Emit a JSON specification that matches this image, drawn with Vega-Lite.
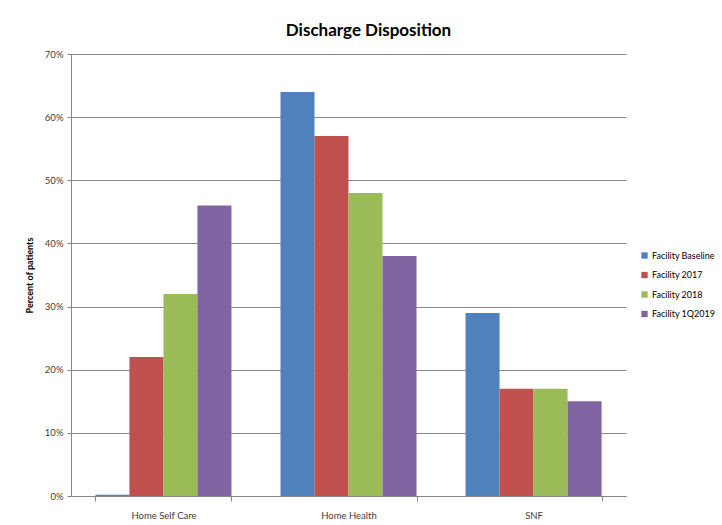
{
  "$schema": "https://vega.github.io/schema/vega-lite/v6.json",
  "autosize": {"type": "none"},
  "padding": {"left": 71, "top": 54, "right": 96, "bottom": 29},
  "width": 555,
  "height": 442,
  "background": "white",
  "title": {
    "text": "Discharge Disposition",
    "font": "Lato",
    "fontSize": 17,
    "fontWeight": "bold",
    "color": "#000000",
    "anchor": "middle",
    "dx": 20,
    "offset": 9
  },
  "data": {
    "values": [
      {"category": "Home Self Care", "series": "Facility Baseline", "value": 0.002},
      {"category": "Home Self Care", "series": "Facility 2017", "value": 0.22},
      {"category": "Home Self Care", "series": "Facility 2018", "value": 0.32},
      {"category": "Home Self Care", "series": "Facility 1Q2019", "value": 0.46},
      {"category": "Home Health", "series": "Facility Baseline", "value": 0.64},
      {"category": "Home Health", "series": "Facility 2017", "value": 0.57},
      {"category": "Home Health", "series": "Facility 2018", "value": 0.48},
      {"category": "Home Health", "series": "Facility 1Q2019", "value": 0.38},
      {"category": "SNF", "series": "Facility Baseline", "value": 0.29},
      {"category": "SNF", "series": "Facility 2017", "value": 0.17},
      {"category": "SNF", "series": "Facility 2018", "value": 0.17},
      {"category": "SNF", "series": "Facility 1Q2019", "value": 0.15}
    ]
  },
  "mark": {"type": "bar"},
  "encoding": {
    "x": {
      "field": "category",
      "type": "nominal",
      "sort": ["Home Self Care", "Home Health", "SNF"],
      "scale": {"paddingInner": 0.265, "paddingOuter": 0.132},
      "axis": {
        "title": null,
        "labelAngle": 0,
        "labelFont": "Lato",
        "labelFontSize": 9.5,
        "labelColor": "#404040",
        "labelPadding": 9,
        "domainColor": "#868686",
        "tickColor": "#868686",
        "tickSize": 5,
        "tickBand": "extent",
        "grid": false
      }
    },
    "xOffset": {
      "field": "series",
      "type": "nominal",
      "sort": ["Facility Baseline", "Facility 2017", "Facility 2018", "Facility 1Q2019"],
      "scale": {"paddingInner": 0, "paddingOuter": 0}
    },
    "y": {
      "field": "value",
      "type": "quantitative",
      "scale": {"domain": [0, 0.7], "nice": false},
      "axis": {
        "title": "Percent of patients",
        "titleFont": "Lato",
        "titleFontSize": 9,
        "titleFontWeight": "bold",
        "titleColor": "#000000",
        "titlePadding": 10,
        "format": ".0%",
        "values": [0, 0.1, 0.2, 0.3, 0.4, 0.5, 0.6, 0.7],
        "labelFont": "Lato",
        "labelFontSize": 9.5,
        "labelColor": "#404040",
        "labelPadding": 4,
        "domainColor": "#868686",
        "tickColor": "#868686",
        "tickSize": 4,
        "gridColor": "#868686",
        "gridWidth": 1
      }
    },
    "color": {
      "field": "series",
      "type": "nominal",
      "sort": ["Facility Baseline", "Facility 2017", "Facility 2018", "Facility 1Q2019"],
      "scale": {
        "domain": ["Facility Baseline", "Facility 2017", "Facility 2018", "Facility 1Q2019"],
        "range": ["#4F81BD", "#C0504D", "#9BBB59", "#8064A2"]
      },
      "legend": {
        "title": null,
        "orient": "none",
        "legendX": 569,
        "legendY": 197,
        "symbolType": "square",
        "symbolSize": 40,
        "symbolStrokeWidth": 0,
        "labelFont": "Lato",
        "labelFontSize": 9,
        "labelColor": "#000000",
        "rowPadding": 9.5,
        "labelOffset": 3
      }
    }
  },
  "config": {
    "view": {"stroke": null}
  }
}
